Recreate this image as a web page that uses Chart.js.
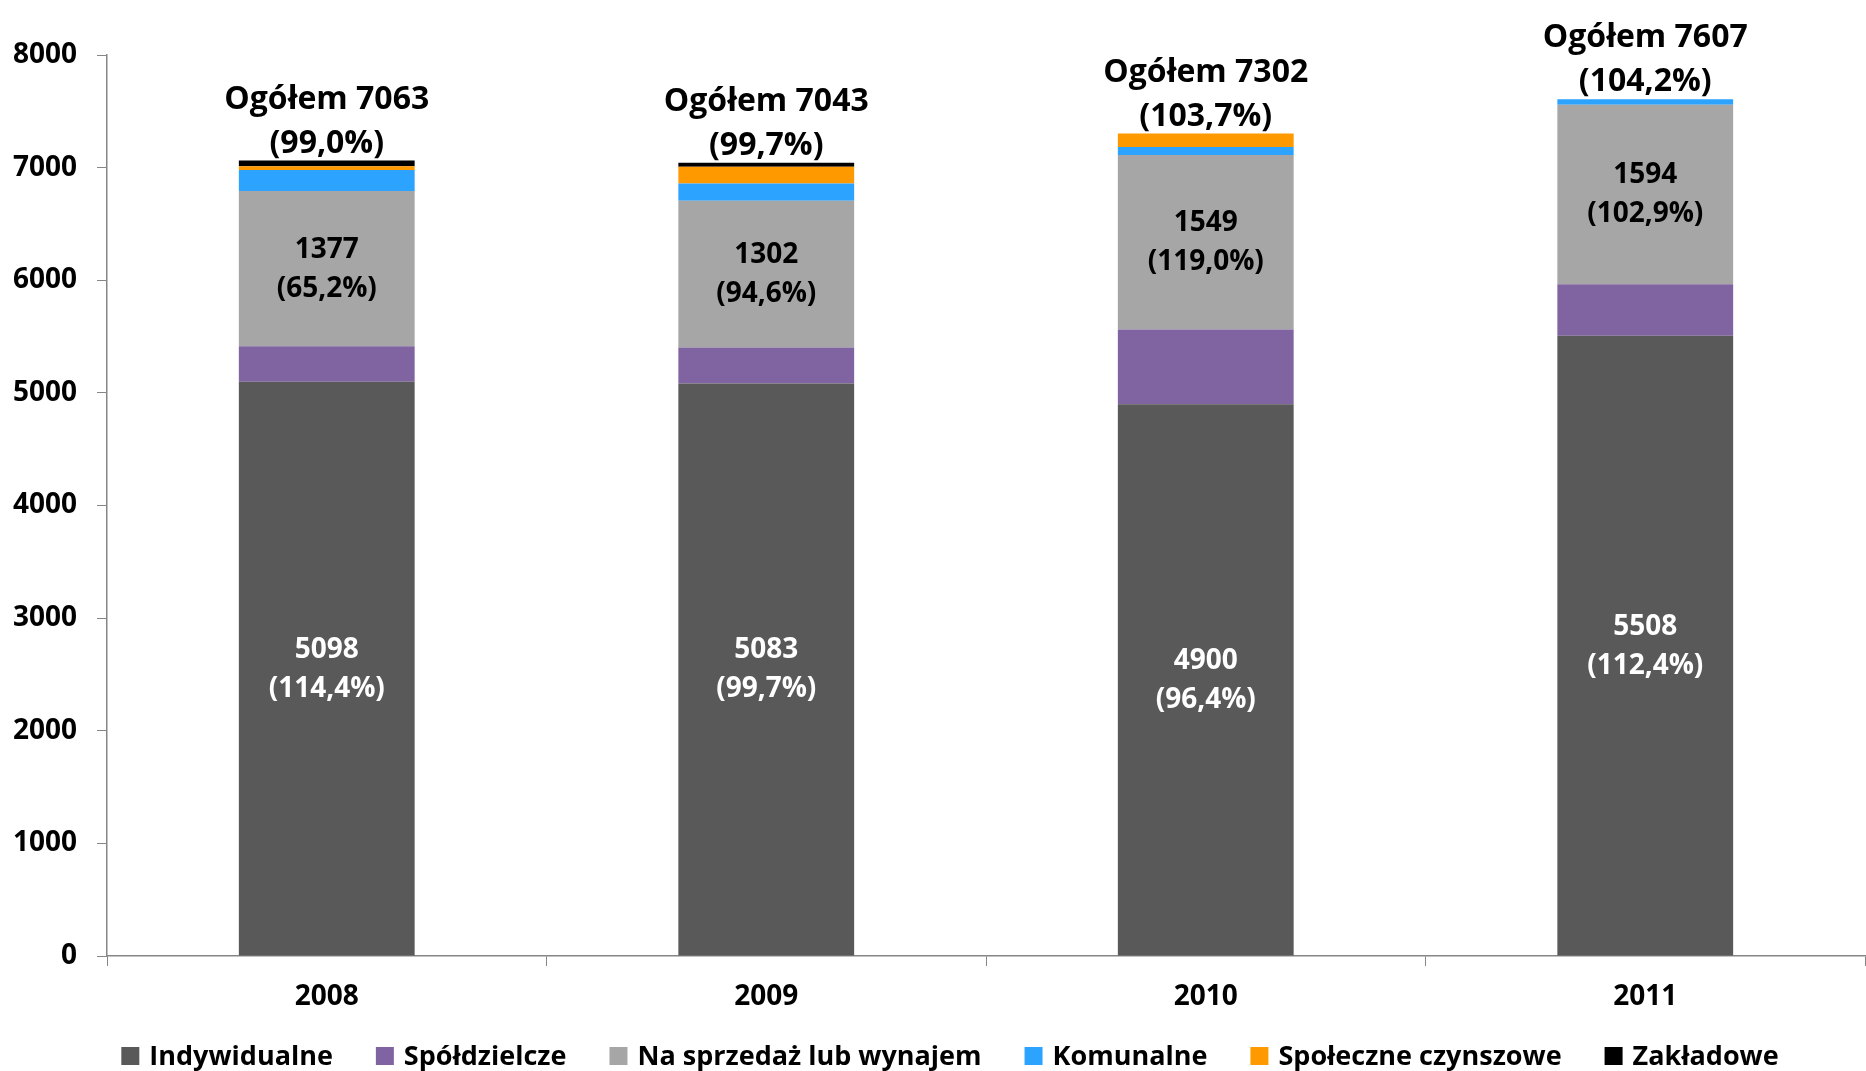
<!DOCTYPE html>
<html lang="pl">
  <head>
    <meta charset="UTF-8" />
    <title>Mieszkania oddane do użytkowania</title>
    <style>
      html, body { margin: 0; padding: 0; background: #ffffff; }
      #wrap { width: 1866px; height: 1071px; }
    </style>
  </head>
  <body>
    <div id="wrap"><canvas id="chart" width="1866" height="1071"></canvas></div>

    <script src="https://cdn.jsdelivr.net/npm/chart.js@4.4.0/dist/chart.umd.min.js"></script>
    <script>
      // dane
      const years = ["2008", "2009", "2010", "2011"];
      const indywidualne = [5098, 5083, 4900, 5508];
      const spoldzielcze = [317, 320, 662, 457];
      const naSprzedaz = [1377, 1302, 1549, 1594];
      const komunalne = [186, 153, 72, 48];
      const spoleczne = [35, 150, 119, 0];
      const zakladowe = [50, 35, 0, 0];

      const ogolem = [7063, 7043, 7302, 7607];
      const ogolemPct = ["99,0%", "99,7%", "103,7%", "104,2%"];
      const indywidualnePct = ["114,4%", "99,7%", "96,4%", "112,4%"];
      const naSprzedazPct = ["65,2%", "94,6%", "119,0%", "102,9%"];

      const yTicks = [0, 1000, 2000, 3000, 4000, 5000, 6000, 7000, 8000];

      const FONT = "'Open Sans', 'DejaVu Sans', sans-serif";
      const AXIS = "#868686";

      // etykiety w słupkach i nad słupkami
      const labelPlugin = {
        id: "barLabels",
        afterDatasetsDraw(chart) {
          const ctx = chart.ctx;
          const y = chart.scales.y;
          ctx.save();
          ctx.textAlign = "center";
          ctx.textBaseline = "middle";

          const inside = [
            { ds: 0, pct: indywidualnePct, values: indywidualne, color: "#ffffff" },
            { ds: 2, pct: naSprzedazPct, values: naSprzedaz, color: "#000000" },
          ];
          ctx.font = "bold 28px " + FONT;
          inside.forEach((s) => {
            const meta = chart.getDatasetMeta(s.ds);
            meta.data.forEach((bar, i) => {
              const cy = (bar.y + bar.base) / 2;
              ctx.fillStyle = s.color;
              ctx.fillText(String(s.values[i]), bar.x, cy - 19);
              ctx.fillText("(" + s.pct[i] + ")", bar.x, cy + 20);
            });
          });

          ctx.font = "bold 32px " + FONT;
          ctx.fillStyle = "#000000";
          const meta0 = chart.getDatasetMeta(0);
          meta0.data.forEach((bar, i) => {
            const top = y.getPixelForValue(ogolem[i]);
            ctx.fillText("Ogółem " + ogolem[i], bar.x, top - 61);
            ctx.fillText("(" + ogolemPct[i] + ")", bar.x, top - 17);
          });
          ctx.restore();
        },
      };

      // legenda pod wykresem (odstępy jak w Excelu)
      const legendPlugin = {
        id: "bottomLegend",
        afterDraw(chart) {
          const ctx = chart.ctx;
          const sets = chart.data.datasets;
          const box = 18, gapText = 10, gapItem = 43;
          ctx.save();
          ctx.font = "bold 27px " + FONT;
          ctx.textBaseline = "middle";
          ctx.textAlign = "left";
          const widths = sets.map((d) => box + gapText + ctx.measureText(d.label).width);
          const total = widths.reduce((a, b) => a + b, 0) + gapItem * (sets.length - 1);
          let x = chart.width / 2 + 17 - total / 2;
          const cy = chart.height - 15;
          sets.forEach((d, i) => {
            ctx.fillStyle = d.backgroundColor;
            ctx.fillRect(x, cy - box / 2, box, box);
            ctx.fillStyle = "#000000";
            ctx.fillText(d.label, x + box + gapText, cy + 1);
            x += widths[i] + gapItem;
          });
          ctx.restore();
        },
      };

      function makeSet(label, data, color) {
        return {
          label: label,
          data: data,
          backgroundColor: color,
          borderWidth: 0,
          categoryPercentage: 1.0,
          barPercentage: 0.4,
        };
      }

      const ctx = document.getElementById("chart").getContext("2d");
      new Chart(ctx, {
        type: "bar",
        data: {
          labels: years,
          datasets: [
            makeSet("Indywidualne", indywidualne, "#595959"),
            makeSet("Spółdzielcze", spoldzielcze, "#8064A2"),
            makeSet("Na sprzedaż lub wynajem", naSprzedaz, "#A6A6A6"),
            makeSet("Komunalne", komunalne, "#2CA3FF"),
            makeSet("Społeczne czynszowe", spoleczne, "#FF9900"),
            makeSet("Zakładowe", zakladowe, "#000000"),
          ],
        },
        options: {
          responsive: false,
          animation: false,
          layout: { padding: { top: 55, left: 0, right: 1, bottom: 53 } },
          plugins: {
            legend: { display: false },
            tooltip: { enabled: false },
          },
          scales: {
            x: {
              stacked: true,
              grid: {
                display: true,
                drawOnChartArea: false,
                tickLength: 10,
                color: AXIS,
                offset: true,
              },
              border: { color: AXIS, width: 1.5 },
              ticks: {
                color: "#000000",
                padding: 14,
                font: { family: FONT, size: 28, weight: "bold" },
              },
              afterFit(scale) {
                scale.height = 62;
              },
            },
            y: {
              stacked: true,
              min: 0,
              max: 8000,
              afterBuildTicks(scale) {
                scale.ticks = yTicks.map((v) => ({ value: v }));
              },
              grid: {
                display: true,
                drawOnChartArea: false,
                tickLength: 10,
                color: AXIS,
              },
              border: { color: AXIS, width: 1.5 },
              ticks: {
                color: "#000000",
                padding: 20,
                font: { family: FONT, size: 28, weight: "bold" },
                callback: (v) => String(v),
              },
              afterFit(scale) {
                scale.width = 107;
              },
            },
          },
        },
        plugins: [labelPlugin, legendPlugin],
      });
    </script>
  </body>
</html>
